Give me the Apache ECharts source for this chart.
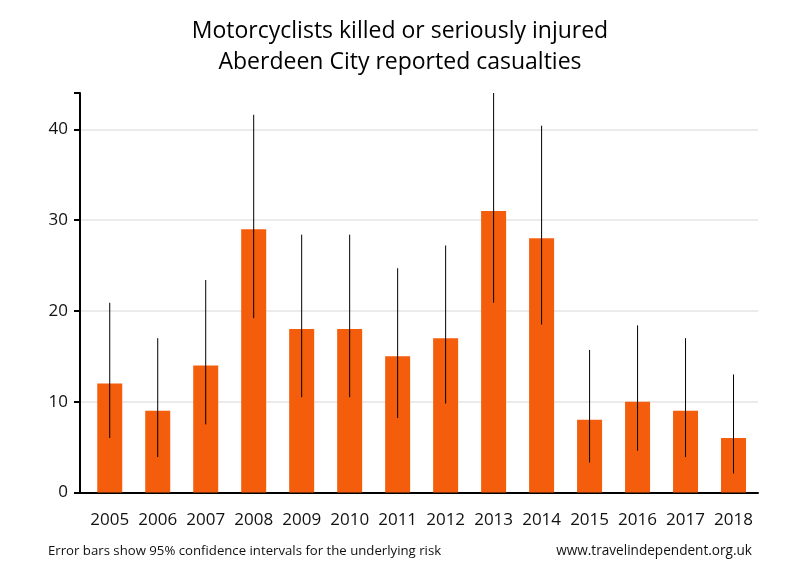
<!DOCTYPE html>
<html>
<head>
<meta charset="utf-8">
<script src="https://cdn.jsdelivr.net/npm/echarts@6/dist/echarts.min.js"></script>
<style>html,body{margin:0;padding:0;background:#fff}#c{width:800px;height:580px}</style>
</head>
<body>
<div id="c"></div>
<script>
const years = ['2005','2006','2007','2008','2009','2010','2011','2012','2013','2014','2015','2016','2017','2018'];
const casualties = [12, 9, 14, 29, 18, 18, 15, 17, 31, 28, 8, 10, 9, 6];
const ciLow  = [6.0, 3.9, 7.5, 19.2, 10.5, 10.5, 8.2, 9.8, 20.9, 18.5, 3.3, 4.6, 3.9, 2.1];
const ciHigh = [20.9, 17.0, 23.4, 41.6, 28.4, 28.4, 24.7, 27.2, 44.0, 40.4, 15.7, 18.4, 17.0, 13.0];
const yTicks = [0, 10, 20, 30, 40];
const xPositions = years.map((y, i) => i);

const FONT = '"Open Sans", sans-serif';
const X_MIN = -0.62, X_MAX = 13.51;
const chart = echarts.init(document.getElementById('c'), null, {renderer: 'canvas'});
const barData = casualties.map((v, i) => [i, v]);
const errData = years.map((y, i) => [i, ciLow[i], ciHigh[i]]);

chart.setOption({
  animation: false,
  backgroundColor: '#ffffff',
  title: {
    text: 'Motorcyclists killed or seriously injured\nAberdeen City reported casualties',
    left: 'center',
    top: 11,
    textStyle: {fontFamily: FONT, fontSize: 23, fontWeight: 'normal', color: '#000', lineHeight: 31}
  },
  grid: {left: 80, right: 42, top: 93, bottom: 87.5},
  xAxis: {
    type: 'value',
    min: X_MIN,
    max: X_MAX,
    axisLine: {show: true, onZero: false, lineStyle: {color: '#000', width: 2}},
    axisTick: {show: false},
    splitLine: {show: false},
    axisLabel: {
      fontFamily: FONT, fontSize: 17, color: '#111', margin: 19,
      customValues: xPositions,
      formatter: function (v) { return years[Math.round(v)]; }
    }
  },
  yAxis: {
    type: 'value',
    min: 0,
    max: 44,
    interval: 10,
    axisLine: {show: true, onZero: false, lineStyle: {color: '#000', width: 2}},
    axisTick: {show: true, length: 6, lineStyle: {color: '#000', width: 2}},
    axisLabel: {fontFamily: FONT, fontSize: 17, color: '#111', margin: 12, customValues: yTicks},
    splitLine: {show: true, showMinLine: false, showMaxLine: false, lineStyle: {color: '#e4e4e4', width: 1.5}}
  },
  graphic: [
    {type: 'text', left: 48, top: 545, style: {text: 'Error bars show 95% confidence intervals for the underlying risk', font: '13.2px ' + FONT, fill: '#111'}},
    {type: 'text', right: 48, top: 544, style: {text: 'www.travelindependent.org.uk', font: '13.6px ' + FONT, fill: '#111'}}
  ],
  series: [
    {
      type: 'bar',
      data: barData,
      barWidth: 25,
      itemStyle: {color: '#F45D0C'}
    },
    {
      type: 'custom',
      data: errData,
      z: 10,
      renderItem: function (params, api) {
        const i = api.value(0);
        const lo = api.coord([i, api.value(1)]);
        const hi = api.coord([i, api.value(2)]);
        return {
          type: 'line',
          shape: {x1: lo[0], y1: lo[1], x2: hi[0], y2: hi[1]},
          style: {stroke: '#000', lineWidth: 1}
        };
      }
    }
  ]
});
</script>
</body>
</html>
